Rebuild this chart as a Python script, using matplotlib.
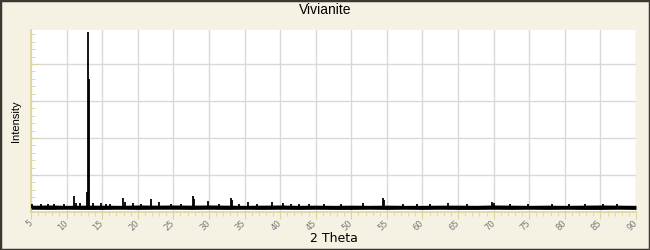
import numpy as np
import matplotlib
matplotlib.use("Agg")
from matplotlib import pyplot as plt
from matplotlib.patches import Rectangle

# background band of the pattern (noise floor), read every 2.5 deg
base_x = [5, 7.5, 10, 12.5, 15, 17.5, 20, 22.5, 25, 27.5, 30, 32.5, 35, 37.5,
          40, 42.5, 45, 47.5, 50, 52.5, 55, 57.5, 60, 62.5, 65, 67.5, 70,
          72.5, 75, 77.5, 80, 82.5, 85, 87.5, 90]
base_lo = [75, 70, 75, 70, 70, 75, 70, 75, 75, 70, 75, 70, 75, 70,
           75, 70, 75, 70, 70, 75, 70, 75, 70, 75, 70, 70, 75,
           70, 75, 70, 75, 70, 70, 75, 70]
base_hi = [180, 190, 180, 185, 185, 180, 190, 185, 190, 185, 190, 185, 180, 185,
           190, 180, 185, 180, 185, 180, 185, 180, 180, 185, 185, 180, 190,
           185, 180, 185, 180, 185, 190, 185, 180]

# peaks (2 theta, intensity)
peak_pos = [5.2, 6.4, 7.4, 8.3, 9.6, 11.1, 11.3, 11.9, 12.9, 13.05, 13.2, 13.7,
            14.9, 15.6, 16.1, 17.95, 18.2, 19.3, 20.4, 21.8, 23.0, 24.6, 26.1,
            27.8, 27.95, 29.9, 31.4, 33.1, 33.3, 34.2, 35.5, 36.7, 38.8, 40.4,
            41.5, 42.6, 44.0, 46.2, 48.5, 51.7, 54.4, 54.6, 57.3, 59.2, 61.0,
            63.6, 66.2, 69.8, 70.0, 72.3, 74.8, 78.2, 80.6, 82.9, 85.4, 87.3]
peak_int = [215, 205, 210, 205, 210, 430, 245, 240, 550, 4865, 3595, 235,
            240, 210, 215, 390, 270, 240, 210, 350, 280, 215, 210,
            440, 340, 300, 220, 390, 330, 225, 260, 220, 280, 250,
            215, 210, 205, 205, 210, 235, 390, 320, 210, 205, 215,
            240, 210, 260, 230, 210, 205, 210, 215, 220, 210, 215]

grid_c = "#d9d9d9"
tick_c = "#ddd49a"
bg = "#f5f2e4"

fig = plt.figure(figsize=(6.5, 2.5), dpi=100, facecolor=bg)
ax = fig.add_axes([31/650, 38/250, 605/650, 182/250])
ax.set_facecolor("white")

ax.fill_between(base_x, base_lo, base_hi, color="black", lw=0, zorder=3)
ax.vlines(peak_pos, 120, peak_int, color="black", lw=1.3, zorder=3)

ax.set_xlim(5, 90)
ax.set_ylim(0, 4920)
ax.set_xticks(np.arange(5, 91, 5))
ax.set_xticks(np.arange(5, 91, 1), minor=True)
ax.set_yticks([1000, 2000, 3000, 4000])
ax.set_yticks(np.arange(200, 4920, 200), minor=True)
ax.set_yticklabels([])
ax.grid(True, which="major", color=grid_c, lw=1)
ax.set_axisbelow(True)

for s in ["top", "right"]:
    ax.spines[s].set_visible(False)
ax.spines["left"].set_color(tick_c)
ax.spines["bottom"].set_color(tick_c)
ax.spines["left"].set_linewidth(1.2)
ax.spines["bottom"].set_linewidth(1.2)

ax.tick_params(axis="x", which="major", direction="out", length=5, color=tick_c,
               labelsize=6, labelcolor="#777777", pad=2)
ax.tick_params(axis="x", which="minor", direction="out", length=3, color=tick_c)
ax.tick_params(axis="y", which="major", direction="in", length=5, color=tick_c)
ax.tick_params(axis="y", which="minor", direction="in", length=3, color=tick_c)
for lab in ax.get_xticklabels():
    lab.set_rotation(45)
    lab.set_ha("right")
    lab.set_va("center")
    lab.set_rotation_mode("anchor")

ax.set_xlabel("2 Theta", fontsize=9, labelpad=0)
ax.set_ylabel("Intensity", fontsize=8, family="Liberation Sans", labelpad=4)
fig.text(0.5, 1 - 10/250, "Vivianite", ha="center", va="center",
         fontsize=10, family="Liberation Sans")

fig.patches.append(Rectangle((0, 0), 1, 1, transform=fig.transFigure,
                             fill=False, edgecolor="#3a3830", lw=2.5))

fig.savefig("out.png", dpi=100, facecolor=bg)
